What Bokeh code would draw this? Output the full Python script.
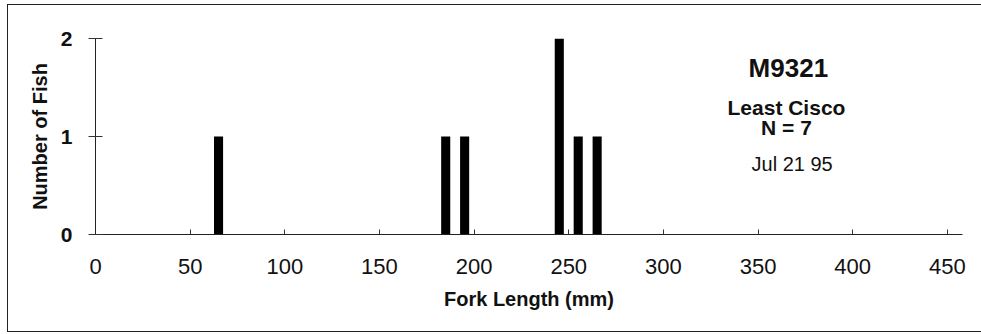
from bokeh.plotting import figure
from bokeh.models import Range1d, FixedTicker, ColumnDataSource, Label
from bokeh.embed import file_html
from bokeh.resources import INLINE

# ---- data ----
fork_length_mm = [65, 185, 195, 245, 255, 265]   # bin centres (10 mm bins)
number_of_fish = [1, 1, 1, 2, 1, 1]
x_ticks = [0, 50, 100, 150, 200, 250, 300, 350, 400, 450]
y_ticks = [0, 1, 2]
station = "M9321"
species = "Least Cisco"
n_label = "N = 7"
date_label = "Jul 21 95"

FONT = "Liberation Sans"
INK = "#111111"

p = figure(width=974, height=328, output_backend="svg", toolbar_location=None,
           x_range=Range1d(0, 458), y_range=Range1d(0, 2),
           min_border_left=87, min_border_right=20,
           min_border_top=33, min_border_bottom=99)
p.styles = {
    "border-top": "1px solid #222222",
    "border-left": "1px solid #222222",
    "border-bottom": "1px solid #222222",
    "margin-left": "7px",
    "margin-top": "4px",
}
p.outline_line_color = None
p.background_fill_color = "white"
p.border_fill_color = "white"
p.xgrid.visible = False
p.ygrid.visible = False

src = ColumnDataSource(dict(x=fork_length_mm, top=number_of_fish))
p.vbar(x="x", top="top", bottom=0, width=4.8, source=src,
       fill_color="black", line_color=None)

# x axis
xa = p.xaxis[0]
xa.ticker = FixedTicker(ticks=x_ticks)
xa.minor_tick_line_color = None
xa.major_tick_in = 5
xa.major_tick_out = 0
xa.major_tick_line_color = "#333333"
xa.axis_line_color = "#222222"
xa.major_label_text_font = FONT
xa.major_label_text_font_size = "22px"
xa.major_label_text_color = INK
xa.major_label_standoff = 24
xa.axis_label = "Fork Length (mm)"
xa.axis_label_text_font = FONT
xa.axis_label_text_font_style = "bold"
xa.axis_label_text_font_size = "20px"
xa.axis_label_text_color = INK
xa.axis_label_standoff = 11

# y axis
ya = p.yaxis[0]
ya.ticker = FixedTicker(ticks=y_ticks)
ya.minor_tick_line_color = None
ya.major_tick_in = 7
ya.major_tick_out = 7
ya.major_tick_line_color = "#333333"
ya.axis_line_color = "#222222"
ya.major_label_text_font = FONT
ya.major_label_text_font_style = "bold"
ya.major_label_text_font_size = "21px"
ya.major_label_text_color = INK
ya.major_label_standoff = 16
ya.axis_label = "Number of Fish"
ya.axis_label_text_font = FONT
ya.axis_label_text_font_style = "bold"
ya.axis_label_text_font_size = "20px"
ya.axis_label_text_color = INK
ya.axis_label_standoff = 7

# annotation block
for txt, yy, size, style, xx in [
    (station, 1.70, "26px", "bold", 366),
    (species, 1.30, "21px", "bold", 365),
    (n_label, 1.09, "21px", "bold", 365),
    (date_label, 0.72, "20px", "normal", 368),
]:
    p.add_layout(Label(x=xx, y=yy, text=txt, text_align="center",
                       text_baseline="middle", text_font=FONT,
                       text_font_size=size, text_font_style=style,
                       text_color=INK))

open("out.html", "w").write(file_html(p, INLINE))
